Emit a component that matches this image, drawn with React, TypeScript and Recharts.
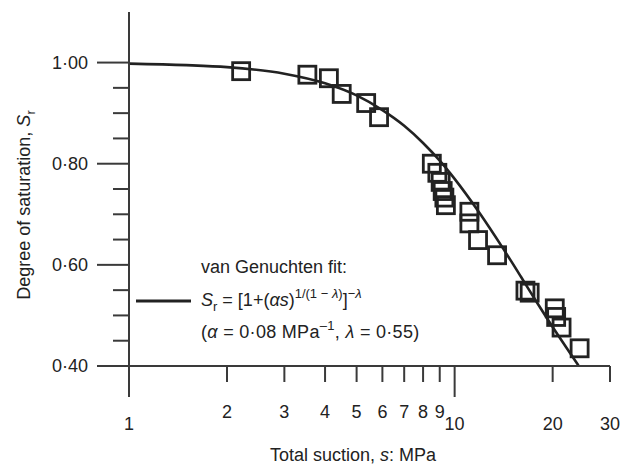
import { ComposedChart, Line, Scatter, XAxis, YAxis } from "recharts";

// measured points (total suction, MPa / degree of saturation)
const pointS = [2.21, 3.53, 4.11, 4.5, 5.35, 5.86, 8.51, 8.85, 9.06, 9.19, 9.3, 9.4, 11.1, 11.1, 11.8, 13.5, 16.5, 17.0, 20.3, 20.5, 21.3, 24.2];
const pointSr = [0.983, 0.976, 0.969, 0.938, 0.92, 0.892, 0.8, 0.782, 0.764, 0.746, 0.733, 0.718, 0.705, 0.682, 0.649, 0.619, 0.549, 0.545, 0.514, 0.497, 0.476, 0.435];

// van Genuchten fit curve
const curveS = [1, 1.5, 2, 3, 4, 5, 6, 7, 8, 9, 10, 12, 14, 16, 18, 20, 22, 24];
const curveSr = [0.998, 0.995, 0.991, 0.978, 0.959, 0.935, 0.906, 0.875, 0.841, 0.806, 0.77, 0.7, 0.635, 0.576, 0.523, 0.477, 0.437, 0.401];

const xTicks = [1, 2, 3, 4, 5, 6, 7, 8, 9, 10, 20, 30];
const xMajor = [1, 10];
const yTicks = [0.4, 0.45, 0.5, 0.55, 0.6, 0.65, 0.7, 0.75, 0.8, 0.85, 0.9, 0.95, 1.0];
const yMajor = [0.4, 0.6, 0.8, 1.0];

const points = pointS.map((s, i) => ({ s, sr: pointSr[i] }));
const curve = curveS.map((s, i) => ({ s, sr: curveSr[i] }));

const INK = "#222";
const AXIS = "#3a3a3a";
const FONT = "'Liberation Sans', Arial, sans-serif";

const XTick = (props: any) => {
  const { x, y, payload } = props;
  const v = payload.value;
  const major = xMajor.includes(v);
  const low = major || v >= 20;
  return (
    <g>
      <line x1={x} x2={x} y1={y} y2={y + (major ? 31 : 16)} stroke={AXIS} strokeWidth={2} />
      <text x={x} y={y + (low ? 64 : 52)} textAnchor="middle" fontSize={18} fill={INK} fontFamily={FONT}>
        {v}
      </text>
    </g>
  );
};

const YTick = (props: any) => {
  const { x, y, payload } = props;
  const v = payload.value;
  const major = yMajor.some((m) => Math.abs(m - v) < 1e-6);
  return (
    <g>
      <line x1={x - (major ? 32 : 16)} x2={x} y1={y} y2={y} stroke={AXIS} strokeWidth={2} />
      {major && (
        <text x={x - 41} y={y + 6} textAnchor="end" fontSize={18} fill={INK} fontFamily={FONT}>
          {v.toFixed(2).replace(".", "·")}
        </text>
      )}
    </g>
  );
};

const Square = (props: any) => {
  const { cx, cy } = props;
  return <rect x={cx - 8.5} y={cy - 8.5} width={17} height={17} fill="none" stroke={INK} strokeWidth={2.8} />;
};

export default function App() {
  return (
    <div style={{ position: "absolute", left: 0, top: 0, background: "#fff" }}>
      <ComposedChart width={633} height={467} margin={{ top: 12, right: 23, bottom: 0, left: 0 }}>
        <XAxis
          dataKey="s"
          type="number"
          scale="log"
          domain={[1, 30]}
          ticks={xTicks}
          interval={0}
          allowDataOverflow
          height={101}
          tickSize={0}
          tickMargin={0}
          tickLine={false}
          axisLine={{ stroke: AXIS, strokeWidth: 2 }}
          tick={<XTick />}
        />
        <YAxis
          dataKey="sr"
          type="number"
          domain={[0.4, 1.1]}
          ticks={yTicks}
          interval={0}
          allowDataOverflow
          width={129}
          tickSize={0}
          tickMargin={0}
          tickLine={false}
          axisLine={{ stroke: AXIS, strokeWidth: 2 }}
          tick={<YTick />}
        />
        <Line
          data={curve}
          dataKey="sr"
          type="monotone"
          stroke={INK}
          strokeWidth={2.6}
          dot={false}
          activeDot={false}
          isAnimationActive={false}
        />
        <Scatter data={points} dataKey="sr" shape={<Square />} isAnimationActive={false} />

        <text x={353} y={461} textAnchor="middle" fontSize={18} fill={INK} fontFamily={FONT}>
          Total suction, <tspan fontStyle="italic">s</tspan>: MPa
        </text>
        <text
          transform="translate(30,205) rotate(-90)"
          textAnchor="middle"
          fontSize={18}
          fill={INK}
          fontFamily={FONT}
        >
          Degree of saturation, <tspan fontStyle="italic">S</tspan>
          <tspan fontSize={13} dy={5}>r</tspan>
        </text>

        <text x={201} y={273} fontSize={18} fill={INK} fontFamily={FONT}>
          van Genuchten fit:
        </text>
        <line x1={136} x2={191} y1={301} y2={301} stroke={INK} strokeWidth={2.8} />
        <text x={201} y={306} fontSize={18} fill={INK} fontFamily={FONT}>
          <tspan fontStyle="italic">S</tspan>
          <tspan fontSize={13} dy={5}>r</tspan>
          <tspan dy={-5}> = [1+(</tspan>
          <tspan fontStyle="italic">αs</tspan>
          <tspan>)</tspan>
          <tspan fontSize={13} dy={-8}>1/(1 − </tspan>
          <tspan fontSize={13} fontStyle="italic">λ</tspan>
          <tspan fontSize={13}>)</tspan>
          <tspan dy={8}>]</tspan>
          <tspan fontSize={13} dy={-8}>−</tspan>
          <tspan fontSize={13} fontStyle="italic">λ</tspan>
        </text>
        <text x={201} y={338} fontSize={18} fill={INK} fontFamily={FONT} letterSpacing={0.3}>
          (<tspan fontStyle="italic">α</tspan> = 0·08 MPa
          <tspan fontSize={13} dy={-8}>–1</tspan>
          <tspan dy={8}>, </tspan>
          <tspan fontStyle="italic">λ</tspan> = 0·55)
        </text>
      </ComposedChart>
    </div>
  );
}
